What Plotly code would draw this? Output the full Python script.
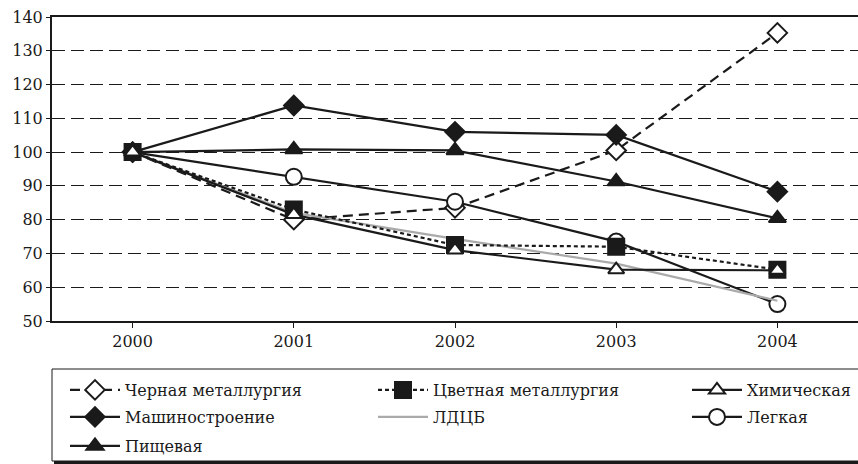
import plotly.graph_objects as go

years = ["2000", "2001", "2002", "2003", "2004"]

chernaya = [100, 80, 83.5, 100.5, 135.3]
tsvetnaya = [100, 83, 72.5, 72, 65.2]
khimicheskaya = [100, 81.5, 71, 65.2, 65]
mashinostroenie = [100, 113.8, 106, 105.1, 88.3]
ldtsb = [100, 82, 74.3, 67, 56]
legkaya = [100, 92.7, 85.3, 73.5, 55]
pishchevaya = [100, 100.8, 100.5, 91.3, 80.4]

y_ticks = [50, 60, 70, 80, 90, 100, 110, 120, 130, 140]

FONT = "DejaVu Serif"
BLACK = "#1a1a1a"

W, H = 858, 464
ML, MR, MT, MB = 52, 0, 17, 143
PW, PH = W - ML - MR, H - MT - MB

fig = go.Figure()

# legend cells: (left edge of entry in px, row centre in px)
COLS = [65, 373, 687]
ROWS = [390, 417, 446]
legends = {}

def add(name, values, dash, symbol, fill, cell, color=BLACK, size=15, show_marker=True):
    key = "legend" if not legends else f"legend{len(legends) + 1}"
    col, row = cell
    legends[key] = dict(
        x=(COLS[col] - ML) / PW, xanchor="left",
        y=(MT + PH - ROWS[row]) / PH, yanchor="middle",
        orientation="v", bgcolor="rgba(0,0,0,0)", borderwidth=0,
        itemwidth=50,
        font=dict(family=FONT, size=16, color=BLACK),
    )
    fig.add_trace(go.Scatter(
        x=years, y=values, name=name, legend=key,
        mode="lines+markers" if show_marker else "lines",
        line=dict(color=color, width=2.2, dash=dash),
        marker=dict(symbol=symbol, size=size, color=fill,
                    line=dict(color=BLACK, width=2)),
    ))

# each series gets its own legend cell; drawing order puts squares and
# open triangles on top where the series meet
add("Черная металлургия", chernaya, "10px,6px", "diamond", "white", (0, 0), size=15)
add("Машиностроение", mashinostroenie, "solid", "diamond", BLACK, (0, 1), size=15)
add("Пищевая", pishchevaya, "solid", "triangle-up", BLACK, (0, 2), size=15)
add("Легкая", legkaya, "solid", "circle", "white", (2, 1), size=16)
add("ЛДЦБ", ldtsb, "solid", "circle", "white", (1, 1), color="#aaaaaa", show_marker=False)
add("Цветная металлургия", tsvetnaya, "4px,3px", "square", BLACK, (1, 0), size=16)
add("Химическая", khimicheskaya, "solid", "triangle-up", "white", (2, 0), size=14)

fig.update_layout(
    width=W, height=H,
    margin=dict(l=ML, r=MR, t=MT, b=MB, autoexpand=False),
    paper_bgcolor="white", plot_bgcolor="white",
    font=dict(family=FONT, size=16, color=BLACK),
    showlegend=True,
    xaxis=dict(
        type="category", range=[-0.5, 4.5],
        showline=True, linecolor=BLACK, linewidth=2, mirror=True,
        ticks="outside", ticklen=5, tickwidth=1, tickcolor=BLACK,
        showgrid=False, zeroline=False,
        tickfont=dict(family=FONT, size=16, color=BLACK),
    ),
    yaxis=dict(
        range=[50, 140], tickvals=y_ticks,
        showline=True, linecolor=BLACK, linewidth=2,
        ticks="outside", ticklen=4, tickwidth=1, tickcolor=BLACK,
        showgrid=True, gridcolor=BLACK, gridwidth=1, griddash="13px,6px",
        zeroline=False,
        tickfont=dict(family=FONT, size=16, color=BLACK),
    ),
    **legends,
)

# legend frame with a heavy bottom edge
def py(px):
    return (MT + PH - px) / PH

fig.add_shape(type="rect", xref="paper", yref="paper",
              x0=0, x1=1.01, y0=py(461), y1=py(369),
              line=dict(color=BLACK, width=1), fillcolor="rgba(0,0,0,0)")
fig.add_shape(type="line", xref="paper", yref="paper",
              x0=2 / PW, x1=1.01, y0=py(462.5), y1=py(462.5),
              line=dict(color=BLACK, width=3))

fig.write_html("out.html")
